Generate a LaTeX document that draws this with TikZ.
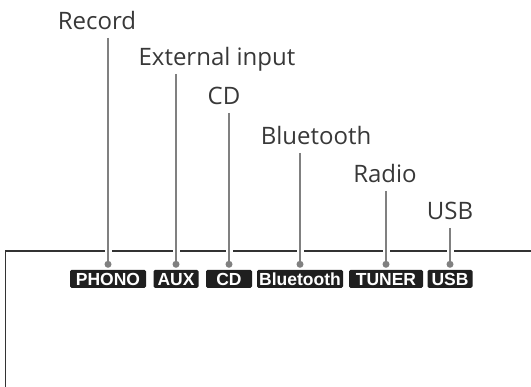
\documentclass[tikz,border=0pt]{standalone}
\usepackage{fontspec}
\setmainfont{Open Sans}
\newfontfamily\badgefont{Liberation Sans}
\begin{document}
\begin{tikzpicture}[x=1pt, y=1pt,
  lbl/.style={font=\fontsize{24}{27}\selectfont, text=black!78, inner sep=0pt, anchor=base},
  badge/.style={fill=black!88, rounded corners=1.5pt, text=white, font=\badgefont\bfseries\fontsize{17.5}{17.5}\selectfont,
    minimum height=18pt, inner xsep=1.5pt, inner ysep=0pt, text height=12.5pt, text depth=0pt},
  leader/.style={draw=black!50, line width=2.2pt, preaction={draw=white, line width=7pt}},
  frame/.style={draw=black!80, line width=1.5pt}]
\useasboundingbox (0,0) rectangle (531,387);
% panel edge
\draw[frame] (5.5,0) -- (5.5,136) -- (531,136);
% source badges
\node[badge, minimum width=76pt] (phono) at (108,108) {PHONO};
\node[badge, minimum width=45pt] (aux) at (176,108) {AUX};
\node[badge, minimum width=46pt] (cd) at (229,108) {CD};
\node[badge, minimum width=86pt] (bt) at (300,108) {Bluetooth};
\node[badge, minimum width=74pt] (tuner) at (386,108) {TUNER};
\node[badge, minimum width=45pt] (usb) at (450,108) {USB};
% labels
\node[lbl] (rec) at (97,357) {Record};
\node[lbl] (ext) at (217,321) {External input};
\node[lbl] (cdl) at (224,282) {CD};
\node[lbl] (btl) at (316,242) {Bluetooth};
\node[lbl] (rad) at (385,204) {Radio};
\node[lbl] (usbl) at (450,167) {USB};
% leaders
\foreach \l/\b in {rec/phono, ext/aux, cdl/cd, btl/bt, rad/tuner, usbl/usb} {
  \coordinate (\b-dot) at ([yshift=5.5pt]\b.north);
  \draw[leader] ([yshift=-8pt]\l.base -| \b-dot) -- (\b-dot);
  \fill[black!50] (\b-dot) circle (3.5pt);
}
\end{tikzpicture}
\end{document}
